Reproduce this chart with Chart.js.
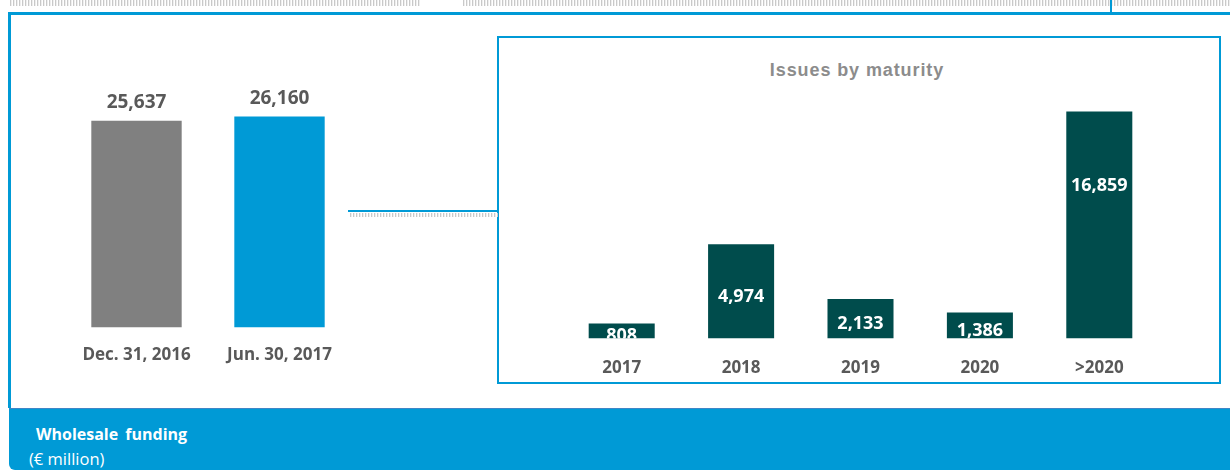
<!DOCTYPE html>
<html>
<head>
<meta charset="utf-8">
<script src="https://cdn.jsdelivr.net/npm/chart.js@4/dist/chart.umd.min.js"></script>
<style>
  body { margin: 0; width: 1230px; height: 470px; overflow: hidden; background: #fff; position: relative; font-family: "Open Sans", sans-serif; }
  .abs { position: absolute; }
  .dots { top: 0; height: 6px; background: repeating-linear-gradient(90deg, #c9c9c9 0 1px, #eeeeee 1px 2px, transparent 2px 3px); }
  .blue { background: #009ad6; }
  #outer { left: 8px; top: 12px; width: 1240px; height: 396px; border-top: 3px solid #009ad6; border-left: 3px solid #009ad6; box-sizing: border-box; }
  #band { left: 9px; top: 408px; width: 1230px; height: 62px; background: #009ad6; border-top: 1px solid #3f86c6; border-bottom-left-radius: 6px; box-sizing: border-box; color: #fff; }
  #inner { left: 497px; top: 36px; width: 724px; height: 348px; border: 2px solid #009ad6; box-sizing: border-box; }
  #title { left: 495px; width: 724px; top: 60px; text-align: center; font: bold 18px "Liberation Sans", Arial, sans-serif; color: #8c8c8c; letter-spacing: 0.9px; }
  #band .t1 { position: absolute; left: 27px; top: 14px; font-weight: bold; font-size: 16px; word-spacing: 3px; }
  #band .t2 { position: absolute; left: 20px; top: 38px; font-size: 16.5px; }
</style>
</head>
<body>
<div class="abs dots" style="left:10px; width:410px;"></div>
<div class="abs dots" style="left:463px; width:767px;"></div>
<div class="abs blue" style="left:1110px; top:0; width:2px; height:14px;"></div>
<div id="outer" class="abs"></div>
<div id="inner" class="abs"></div>
<div class="abs blue" style="left:348px; top:210px; width:150px; height:2px;"></div>
<div class="abs dots" style="left:350px; top:213px; width:148px; height:4px;"></div>
<div id="title" class="abs">Issues by maturity</div>
<div id="band" class="abs"><span class="t1">Wholesale funding</span><span class="t2">(€ million)</span></div>

<canvas id="totalChart" class="abs" width="286" height="322" style="left:65px; top:60px;"></canvas>
<canvas id="maturityChart" class="abs" width="597" height="301" style="left:562px; top:96px;"></canvas>

<script>
// Wholesale funding totals
const totalLabels = ['Dec. 31, 2016', 'Jun. 30, 2017'];
const totalValues = [25637, 26160];
const totalColors = ['#808080', '#009ad6'];

// Issues by maturity
const maturityLabels = ['2017', '2018', '2019', '2020', '>2020'];
const maturityValues = [808, 4974, 2133, 1386, 16859];
// bar lengths as drawn in the reference (not proportional to the printed values)
const maturityBarHeights = [1120, 7000, 2940, 1940, 16859];

const textGray = '#595959';

/**
 * Draws value labels on the bars
 */
const valueLabels = {
    id: 'valueLabels',
    afterDatasetsDraw(chart, args, opts) {
        const ctx = chart.ctx;
        const area = chart.chartArea;
        const meta = chart.getDatasetMeta(0);
        ctx.save();
        if (opts.inside) {
            // labels that run past the baseline get cut off, like in the source
            ctx.beginPath();
            ctx.rect(area.left, 0, area.right - area.left, area.bottom);
            ctx.clip();
        }
        ctx.font = opts.font;
        ctx.fillStyle = opts.color;
        ctx.textAlign = 'center';
        ctx.textBaseline = 'middle';
        meta.data.forEach((bar, i) => {
            const text = opts.values[i].toLocaleString('en-US');
            let y;
            if (opts.inside) {
                const h = bar.base - bar.y;
                y = bar.y + Math.min(h * 0.5 + 5, 74);
            } else {
                y = bar.y - opts.offset;
            }
            ctx.fillText(text, bar.x, y);
        });
        ctx.restore();
    }
};

function xAxis(padding) {
    return {
        grid: { display: false, drawTicks: false },
        border: { display: false },
        ticks: {
            color: textGray,
            padding: padding,
            font: { family: 'Open Sans', weight: 'bold', size: 17 }
        }
    };
}

new Chart(document.getElementById('totalChart'), {
    type: 'bar',
    data: {
        labels: totalLabels,
        datasets: [{
            data: totalValues,
            backgroundColor: totalColors,
            categoryPercentage: 1,
            barPercentage: 0.632
        }]
    },
    options: {
        responsive: false,
        animation: false,
        devicePixelRatio: 1,
        layout: { padding: { top: 28, left: 0, right: 0, bottom: 0 } },
        plugins: {
            legend: { display: false },
            tooltip: { enabled: false },
            valueLabels: {
                values: totalValues,
                font: 'bold 19px "Open Sans"',
                color: textGray,
                offset: 18
            }
        },
        scales: {
            x: xAxis(17),
            y: { display: false, min: 0, max: 29700 }
        }
    },
    plugins: [valueLabels]
});

new Chart(document.getElementById('maturityChart'), {
    type: 'bar',
    data: {
        labels: maturityLabels,
        datasets: [{
            data: maturityBarHeights,
            backgroundColor: '#004c4c',
            categoryPercentage: 1,
            barPercentage: 0.553
        }]
    },
    options: {
        responsive: false,
        animation: false,
        devicePixelRatio: 1,
        layout: { padding: 0 },
        plugins: {
            legend: { display: false },
            tooltip: { enabled: false },
            valueLabels: {
                values: maturityValues,
                font: 'bold 18px "Open Sans"',
                color: '#ffffff',
                inside: true
            }
        },
        scales: {
            x: xAxis(19),
            y: { display: false, min: 0, max: 18000 }
        }
    },
    plugins: [valueLabels]
});
</script>
</body>
</html>
